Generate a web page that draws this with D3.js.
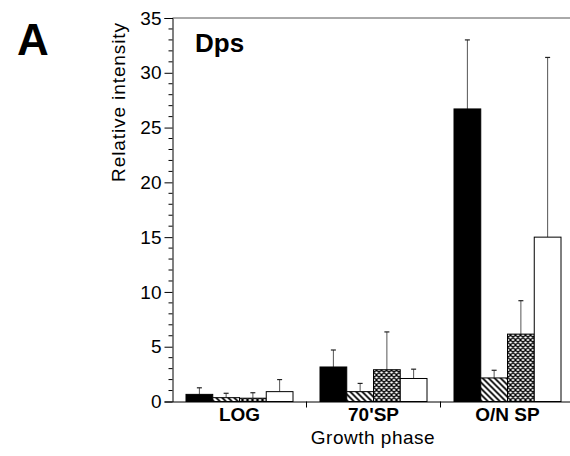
<!DOCTYPE html>
<html>
<head>
<meta charset="utf-8">
<script src="https://cdn.jsdelivr.net/npm/d3@7"></script>
<style>
  body { margin: 0; background: #fff; }
  svg { font-family: "Liberation Sans", Arial, sans-serif; }
</style>
</head>
<body>
<div id="chart"></div>
<script>
// data
const phases = ["LOG", "70'SP", "O/N SP"];
const series = ["s1", "s2", "s3", "s4"];
const means = [
  [0.65, 0.35, 0.3, 0.9],
  [3.15, 0.9, 2.9, 2.1],
  [26.7, 2.15, 6.15, 15.0]
];
const tops = [
  [1.25, 0.75, 0.8, 2.0],
  [4.7, 1.65, 6.35, 2.95],
  [33.0, 2.85, 9.2, 31.4]
];
const yTicks = [0, 5, 10, 15, 20, 25, 30, 35];

const W = 570, H = 456;
const x0 = 172.5, x1 = 574.5, yBase = 401.5, yTop = 18;

const svg = d3.select("#chart").append("svg")
  .attr("width", W).attr("height", H);

// patterns
const defs = svg.append("defs");
const hatch = defs.append("pattern")
  .attr("id", "hatch").attr("patternUnits", "userSpaceOnUse")
  .attr("width", 6).attr("height", 6);
hatch.append("rect").attr("width", 6).attr("height", 6).attr("fill", "#fff");
hatch.append("path").attr("d", "M-1,-1 L7,7 M-1,5 L1,7 M5,-1 L7,1")
  .attr("stroke", "#000").attr("stroke-width", 1.7);

const cross = defs.append("pattern")
  .attr("id", "cross").attr("patternUnits", "userSpaceOnUse")
  .attr("width", 5).attr("height", 5);
cross.append("rect").attr("width", 5).attr("height", 5).attr("fill", "#fff");
cross.append("path").attr("d", "M-1,-1 L6,6 M-1,4 L1,6 M4,-1 L6,1 M-1,6 L6,-1 M-1,1 L1,-1 M4,6 L6,4")
  .attr("stroke", "#000").attr("stroke-width", 1.3);

const fills = d3.scaleOrdinal().domain(series)
  .range(["#000", "url(#hatch)", "url(#cross)", "#fff"]);

const xScale = d3.scaleBand().domain(phases).range([x0, x1]);
const xInner = d3.scaleBand().domain(series).range([13.5, 120.5]);
const yScale = d3.scaleLinear().domain([0, 35]).range([yBase, yTop]);

// top frame line
svg.append("line")
  .attr("x1", x0).attr("x2", W).attr("y1", yScale(35)).attr("y2", yScale(35))
  .attr("stroke", "#555").attr("stroke-width", 1);

// bars
const groups = svg.selectAll("g.grp")
  .data(phases.map((p, i) => ({ phase: p, vals: series.map((s, j) => ({ s, v: means[i][j], e: tops[i][j] })) })))
  .join("g")
  .attr("class", "grp")
  .attr("transform", d => `translate(${xScale(d.phase)},0)`);

// error bars (drawn first so bar covers lower part)
groups.selectAll("g.err")
  .data(d => d.vals)
  .join("g")
  .attr("class", "err")
  .each(function (d) {
    const g = d3.select(this);
    const cx = xInner(d.s) + xInner.bandwidth() / 2;
    g.append("line")
      .attr("x1", cx).attr("x2", cx)
      .attr("y1", yScale(d.v)).attr("y2", yScale(d.e))
      .attr("stroke", "#555").attr("stroke-width", 1);
    g.append("line")
      .attr("x1", cx - 2.5).attr("x2", cx + 2.5)
      .attr("y1", yScale(d.e)).attr("y2", yScale(d.e))
      .attr("stroke", "#222").attr("stroke-width", 1.2);
  });

groups.selectAll("rect")
  .data(d => d.vals)
  .join("rect")
  .attr("x", d => xInner(d.s))
  .attr("width", xInner.bandwidth())
  .attr("y", d => yScale(d.v))
  .attr("height", d => yBase - yScale(d.v))
  .attr("fill", d => fills(d.s))
  .attr("stroke", "#000")
  .attr("stroke-width", 1);

// y axis
const yAxis = d3.axisLeft(yScale).tickValues(yTicks).tickSize(8).tickPadding(3);
const yg = svg.append("g")
  .attr("transform", `translate(${x0},0)`)
  .call(yAxis);
yg.select(".domain").attr("stroke", "#000");
yg.selectAll(".tick line").attr("stroke", "#000");
yg.selectAll(".tick text").attr("font-size", 19).attr("fill", "#000");

// minor ticks
svg.append("g").selectAll("line")
  .data(d3.range(0, 36).filter(v => v % 5 !== 0))
  .join("line")
  .attr("x1", x0 - 4).attr("x2", x0)
  .attr("y1", d => yScale(d)).attr("y2", d => yScale(d))
  .attr("stroke", "#000").attr("stroke-width", 1);

// x axis baseline and category ticks
const xAxis = d3.axisBottom(xScale).tickSize(0).tickPadding(6);
const xg = svg.append("g")
  .attr("transform", `translate(0,${yBase})`)
  .call(xAxis);
xg.select(".domain").attr("stroke", "#000");
xg.selectAll(".tick text")
  .attr("font-size", 19).attr("font-weight", "bold").attr("fill", "#000");

svg.append("g").selectAll("line")
  .data(phases.slice(1))
  .join("line")
  .attr("x1", d => xScale(d)).attr("x2", d => xScale(d))
  .attr("y1", yBase).attr("y2", yBase + 6)
  .attr("stroke", "#000");

// labels
svg.append("text")
  .attr("x", 373).attr("y", 444)
  .attr("text-anchor", "middle")
  .attr("font-size", 19)
  .attr("letter-spacing", 0.5)
  .text("Growth phase");

svg.append("text")
  .attr("transform", "translate(125,102) rotate(-90)")
  .attr("text-anchor", "middle")
  .attr("font-size", 19)
  .attr("letter-spacing", 0.9)
  .text("Relative intensity");

svg.append("text")
  .attr("x", 195).attr("y", 52)
  .attr("font-size", 26).attr("font-weight", "bold")
  .text("Dps");

svg.append("text")
  .attr("x", 17).attr("y", 55)
  .attr("font-size", 44).attr("font-weight", "bold")
  .text("A");
</script>
</body>
</html>
